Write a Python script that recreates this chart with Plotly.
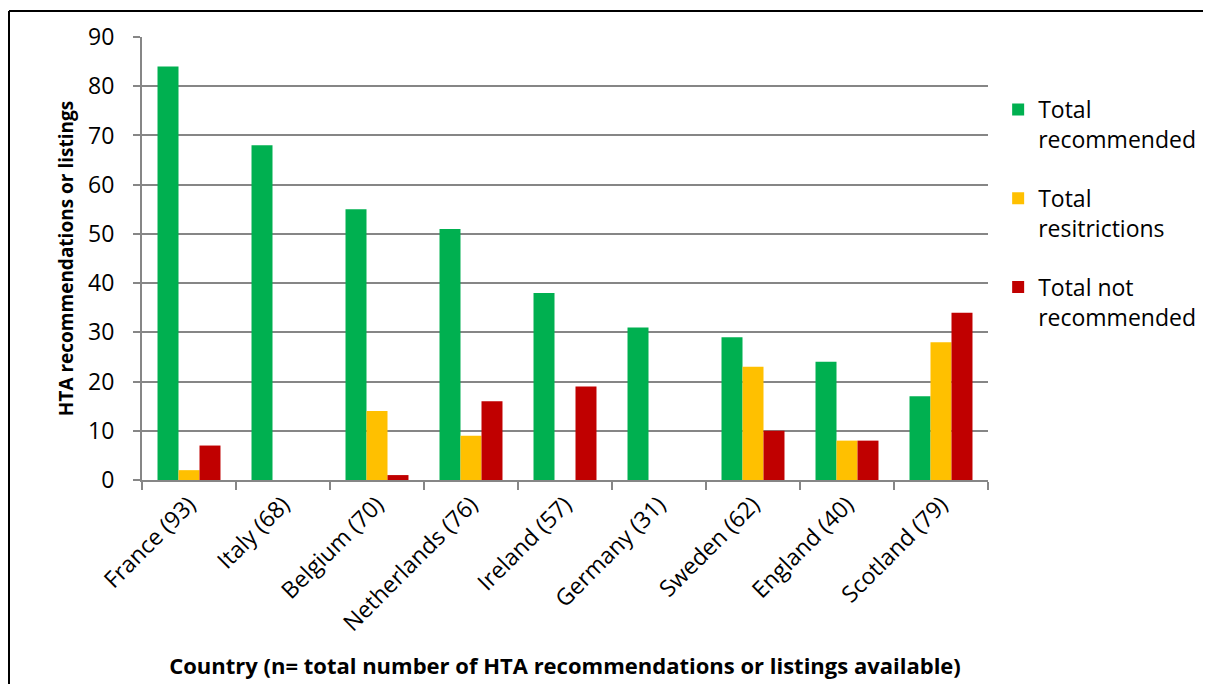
import plotly.graph_objects as go

countries = ["France (93)", "Italy (68)", "Belgium (70)", "Netherlands (76)", "Ireland (57)",
             "Germany (31)", "Sweden (62)", "England (40)", "Scotland (79)"]
recommended = [84, 68, 55, 51, 38, 31, 29, 24, 17]
restrictions = [2, 0, 14, 9, 0, 0, 23, 8, 28]
not_recommended = [7, 0, 1, 16, 19, 0, 10, 8, 34]

series_names = ["Total<br>recommended", "Total<br>resitrictions", "Total not<br>recommended"]
series_colors = ["#00B050", "#FFC000", "#C00000"]

FONT = "'Open Sans', Lato, sans-serif"

fig = go.Figure()
for i, (name, vals, col) in enumerate(zip(series_names, [recommended, restrictions, not_recommended], series_colors)):
    fig.add_trace(go.Bar(x=countries, y=vals, name=name, marker=dict(color=col, line=dict(width=0)),
                         legendgroup=str(i)))

# page body adds 8px offset; margins compensate
PW, PH = 846, 445
L, T = 134, 27
bx = (1 - L) / PW          # left border, paper coords
by = 1 + (T - 1) / PH      # top border, paper coords
fig.update_layout(
    width=1211, height=684,
    margin=dict(l=L, r=231, t=T, b=212),
    paper_bgcolor="white", plot_bgcolor="white",
    barmode="group", bargap=0.33, bargroupgap=0,
    font=dict(family=FONT, size=23, color="black"),
    legend=dict(x=1.012, y=0.885, xanchor="left", yanchor="top", font=dict(size=23),
                tracegroupgap=26, traceorder="grouped", itemwidth=30, valign="top"),
    shapes=[
        dict(type="line", xref="paper", yref="paper", x0=bx, x1=bx, y0=by, y1=-1.0,
             line=dict(color="black", width=2), layer="below"),
        dict(type="line", xref="paper", yref="paper", x0=bx, x1=1.5, y0=by, y1=by,
             line=dict(color="black", width=2), layer="below"),
    ],
)
fig.update_xaxes(
    type="category", tickangle=-45, tickson="boundaries", ticks="outside", ticklen=8,
    tickcolor="#868686", tickwidth=2, showline=True, linecolor="#868686", linewidth=2,
    tickfont=dict(size=23),
    title=dict(text="<b>Country (n= total number of HTA recommendations or listings available)</b>",
               font=dict(size=22), standoff=22),
)
fig.update_yaxes(
    range=[0, 90], dtick=10, showgrid=True, gridcolor="#868686", gridwidth=1.5,
    ticks="outside", ticklen=7, tickcolor="#868686", tickwidth=2, ticklabelstandoff=14,
    showline=True, linecolor="#868686", linewidth=2, zeroline=False,
    tickfont=dict(size=23),
    title=dict(text="<b>HTA recommendations or listings</b>", font=dict(size=19), standoff=9),
)

fig.write_html("out.html")
